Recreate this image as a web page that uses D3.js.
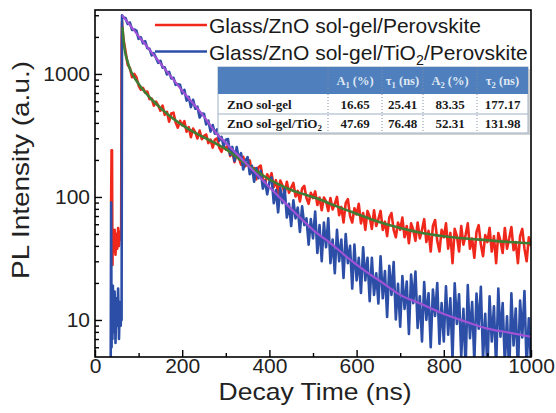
<!DOCTYPE html>
<html><head><meta charset="utf-8">
<script src="https://cdn.jsdelivr.net/npm/d3@7"></script>
<style>body{margin:0;background:#fff}svg{display:block}</style>
</head><body>
<svg id="c" width="556" height="413"></svg>
<script>
// ---------------- DATA ----------------
// Pre-peak region (ns, counts)
const redPreTime  = [37,38,39,40,41,43,45,47,49,51,53,55,57,59,60,61,62,63];
const redPreValue = [90,240,240,28,45,36,54,34,50,38,56,40,52,45,48,1800,2650,2300];
const bluePreTime  = [35,36,37,38,39,40,41,43,45,47,49,51,53,55,57,59,60,61,62,63];
const bluePreValue = [3,4,90,6,16,7,19,8,17,6.5,15,9,18,7,14,9,12,10,3000,2950];

// Decay data sampled every 5 ns from 65 ns to 1000 ns
const gridStart = 65, gridStep = 5;
const redDecay = [
 1950,1520,1190,1120,940,1000,940,805,745,770,
 705,720,625,632,553,595,555,503,553,465,
 492,409,477,484,403,366,416,381,413,339,
 370,306,360,335,299,347,295,314,322,274,
 292,252,293,300,252,233,263,243,264,215,
 233,192,224,207,183,212,178,189,198,157,
 172,139,174,180,141,127,153,137,156,120,
 137,107,136,124,106,133,108,119,130,101,
 112,92,117,123,98,88,108,98,111,86,
 99,78,99,92,77,98,79,88,100,71,
 83,62,89,96,70,62,81,72,88,61,
 74,54,77,69,55,78,58,66,77,54,
 63,48,68,74,54,47,62,54,68,47,
 58,42,61,54,44,62,46,54,66,43,
 53,36,58,65,44,36,54,47,61,38,
 51,29,55,48,36,58,41,49,61,38,
 46,32,52,59,41,33,49,43,56,36,
 48,29,51,44,35,56,38,46,57,37,
 43,29,48,55,38,30,47,40];
const blueDecay = [
 2880,2850,2550,2620,2280,2300,2250,1930,1990,1775,
 1845,1620,1600,1415,1475,1350,1230,1280,1125,1133,
 990,1040,920,930,816,826,816,694,743,607,
 652,536,617,522,542,442,476,475,389,417,
 340,384,327,354,287,308,258,292,296,220,
 255,196,255,204,227,167,197,211,153,179,
 133,172,142,163,117,135,105,132,144,89,
 114,75,118,89,118,68,88,58,94,67,
 82,52,84,59,67,41,66,46,76,35,
 59,30,62,39,67,29,45,24,54,30,
 45,22,50,29,40,18,41,21,32,16.6,
 39,21,32,14.2,32,16,24,13.6,33,15,
 25,10.6,27.6,16,29.6,10.1,19.7,8.8,22.8,12.3,
 20.5,7.7,23.4,13.7,24.7,8.6,15.6,6.7,20.3,10,
 16.5,6,17.7,10.8,20,6.4,13.7,6.7,18.8,7.6,
 15,4.8,19.9,9.3,16.2,5,12.3,4.1,19.2,7.1,
 14,4.6,16.4,8.5,18.6,4.8,11.2,3.8,15.6,6.7,
 12.9,4.1,18,7.3,13.7,4.4,10.7,3.6,16.5,6.2,
 12.4,3.8,14.4,7.2,17.2,4.1,10.3,4.4];

// Fit curves
const greenFitTime  = [63,66,70,75,80,90,100,115,130,150,170,190,210,230,250,270,300,330,360,390,420,450,480,510,550,600,650,700,750,800,850,900,950,1000];
const greenFitValue = [2400,1800,1450,1250,1100,940,830,710,620,530,460,407,365,332,305,280,245,205,172,146,127,114,105,97,85,73,63,56,51,48,46,44.5,43,42];
const purpleFitTime  = [62,80,100,120,140,160,180,200,228,250,278,300,325,350,375,400,425,450,475,500,544,580,620,660,700,750,800,850,900,950,1000];
const purpleFitValue = [3000,2500,2030,1660,1350,1100,900,730,560,450,330,275,224,182,148,120,98,80,65.5,54,41,32,25,20,16,13.4,11.2,9.7,8.5,7.9,7.3];

// Axes
const xMajorTicks = [0,200,400,600,800,1000];
const xMinorTicks = [100,300,500,700,900];
const yMajorTicks = [10,100,1000];
const yMinorTicks = [6,7,8,9,20,30,40,50,60,70,80,90,200,300,400,500,600,700,800,900,2000,3000];

// Legend and table
const legendLabels = ["Glass/ZnO sol-gel/Perovskite", "Glass/ZnO sol-gel/TiO|2|/Perovskite"];
const tableHeaders = [["A","1"," (%)"],["τ","1"," (ns)"],["A","2"," (%)"],["τ","2"," (ns)"]];
const tableRowLabels = [["ZnO sol-gel"],["ZnO sol-gel/TiO","2",""]];
const tableValues = [["16.65","25.41","83.35","177.17"],["47.69","76.48","52.31","131.98"]];

// ---------------- DRAW ----------------
const svg = d3.select("#c");
const L=95, R=531, T=10, B=357;
const x = d3.scaleLinear().domain([0,1000]).range([L,R]);
const y = d3.scaleLog().domain([5.0,3310]).range([B,T]);
const sans = "'Liberation Sans', Arial, Helvetica, sans-serif";
const serif = "'Liberation Serif', 'Times New Roman', serif";
const cRed="#f0281c", cBlue="#2c4ea6", cGreen="#3f7c34", cPurple="#a052d6";

svg.append("defs").append("clipPath").attr("id","clip")
  .append("rect").attr("x",L).attr("y",T).attr("width",R-L).attr("height",B-T);

function build(preT, preV, vals){
  return preT.map((t,i)=>[t,preV[i]]).concat(vals.map((v,i)=>[gridStart+i*gridStep, v]));
}
const redData = build(redPreTime, redPreValue, redDecay);
const blueData = build(bluePreTime, bluePreValue, blueDecay);
const greenData = greenFitTime.map((t,i)=>[t,greenFitValue[i]]);
const purpleData = purpleFitTime.map((t,i)=>[t,purpleFitValue[i]]);

const line = d3.line().x(d=>x(d[0])).y(d=>y(d[1]));
const sline = d3.line().x(d=>x(d[0])).y(d=>y(d[1])).curve(d3.curveMonotoneX);
const plot = svg.append("g").attr("clip-path","url(#clip)");
plot.append("path").attr("d",line(redData)).attr("fill","none").attr("stroke",cRed).attr("stroke-width",2.6).attr("stroke-linejoin","round");
plot.append("path").attr("d",line(blueData)).attr("fill","none").attr("stroke",cBlue).attr("stroke-width",2.6).attr("stroke-linejoin","round");
plot.append("path").attr("d",sline(greenData)).attr("fill","none").attr("stroke",cGreen).attr("stroke-width",2.6);
plot.append("path").attr("d",sline(purpleData)).attr("fill","none").attr("stroke",cPurple).attr("stroke-width",2.2);

// axes
function styleAxis(g){
  g.select(".domain").remove();
  g.selectAll(".tick line").attr("stroke","#000").attr("stroke-width",1.4);
  g.selectAll(".tick text").attr("font-family",sans).attr("font-size",21).attr("fill","#222");
}
svg.append("g").attr("transform",`translate(0,${B})`)
  .call(d3.axisBottom(x).tickValues(xMajorTicks).tickSize(-7).tickPadding(1.5).tickFormat(d3.format("d"))).call(styleAxis);
svg.append("g").attr("transform",`translate(0,${B})`)
  .call(d3.axisBottom(x).tickValues(xMinorTicks).tickSize(-4).tickFormat("")).call(styleAxis);
svg.append("g").attr("transform",`translate(${L},0)`)
  .call(d3.axisLeft(y).tickValues(yMajorTicks).tickSize(-7).tickPadding(5).tickFormat(d3.format("d"))).call(styleAxis);
svg.append("g").attr("transform",`translate(${L},0)`)
  .call(d3.axisLeft(y).tickValues(yMinorTicks).tickSize(-4).tickFormat("")).call(styleAxis);

// frame
svg.append("rect").attr("x",L).attr("y",T).attr("width",R-L).attr("height",B-T)
  .attr("fill","none").attr("stroke","#000").attr("stroke-width",1.6);

// axis titles
svg.append("text").attr("x",315).attr("y",400).attr("text-anchor","middle")
  .attr("font-family",sans).attr("font-size",24).attr("fill","#222")
  .attr("textLength",193).attr("lengthAdjust","spacingAndGlyphs").text("Decay Time (ns)");
svg.append("text").attr("transform","translate(29,170) rotate(-90)").attr("text-anchor","middle")
  .attr("font-family",sans).attr("font-size",24).attr("fill","#222")
  .attr("textLength",218).attr("lengthAdjust","spacingAndGlyphs").text("PL Intensity (a.u.)");

// rich text helper: parts alternate normal, subscript, normal...
function rich(g, px, py, parts, opts){
  const t = g.append("text").attr("x",px).attr("y",py)
    .attr("text-anchor",opts.anchor||"start").attr("font-family",opts.family)
    .attr("font-size",opts.size).attr("font-weight",opts.weight||"normal").attr("fill",opts.fill);
  parts.forEach((p,i)=>{
    if(p==="") return;
    const sub = i%2===1;
    const s = t.append("tspan").text(p);
    if(sub){ s.attr("font-size",opts.size*0.68).attr("dy",opts.size*0.25); }
    else if(i>0){ s.attr("dy",-opts.size*0.25); }
  });
  return t;
}

// legend
const legColors=[cRed,cBlue];
const legY=[25,51.5];
legendLabels.forEach((lab,i)=>{
  svg.append("line").attr("x1",155).attr("x2",207).attr("y1",legY[i]).attr("y2",legY[i])
    .attr("stroke",legColors[i]).attr("stroke-width",2.6);
  rich(svg, 209, legY[i]+8, lab.split("|"), {family:sans,size:21,fill:"#1a1a1a"});
});

// table
const tb = svg.append("g");
const tx0=218, tx1=528, ty0=67, ty1=94, ty2=114, ty3=133;
const colX=[328,382,423,477];
const colC=[355,402.5,450,502.5];
tb.append("rect").attr("x",tx0+2).attr("y",ty0+2).attr("width",tx1-tx0).attr("height",ty3-ty0).attr("fill","#d4d4d4");
tb.append("rect").attr("x",tx0).attr("y",ty0).attr("width",tx1-tx0).attr("height",ty3-ty0).attr("fill","#fff").attr("stroke","#9fb0c4").attr("stroke-width",1);
tb.append("rect").attr("x",tx0).attr("y",ty0).attr("width",tx1-tx0).attr("height",ty1-ty0).attr("fill","#4f7fbd");
tb.append("line").attr("x1",tx0).attr("x2",tx1).attr("y1",ty2).attr("y2",ty2).attr("stroke","#9fb0c4");
colX.forEach(cx=>{
  tb.append("line").attr("x1",cx).attr("x2",cx).attr("y1",ty0).attr("y2",ty3)
    .attr("stroke","#7f8fa6").attr("stroke-width",1).attr("stroke-dasharray","1,2");
});
tableHeaders.forEach((h,i)=>rich(tb, colC[i], 85, h, {anchor:"middle",family:serif,size:12.5,weight:"bold",fill:"#dfe8f4"}));
const rowBase=[108.5,128];
tableRowLabels.forEach((r,i)=>rich(tb, 227, rowBase[i], r, {family:serif,size:13,weight:"bold",fill:"#1a1a1a"}));
tableValues.forEach((row,i)=>row.forEach((v,j)=>{
  tb.append("text").attr("x",colC[j]).attr("y",rowBase[i]).attr("text-anchor","middle")
    .attr("font-family",serif).attr("font-size",13).attr("font-weight","bold").attr("fill","#1a1a1a").text(v);
}));
</script>
</body></html>
